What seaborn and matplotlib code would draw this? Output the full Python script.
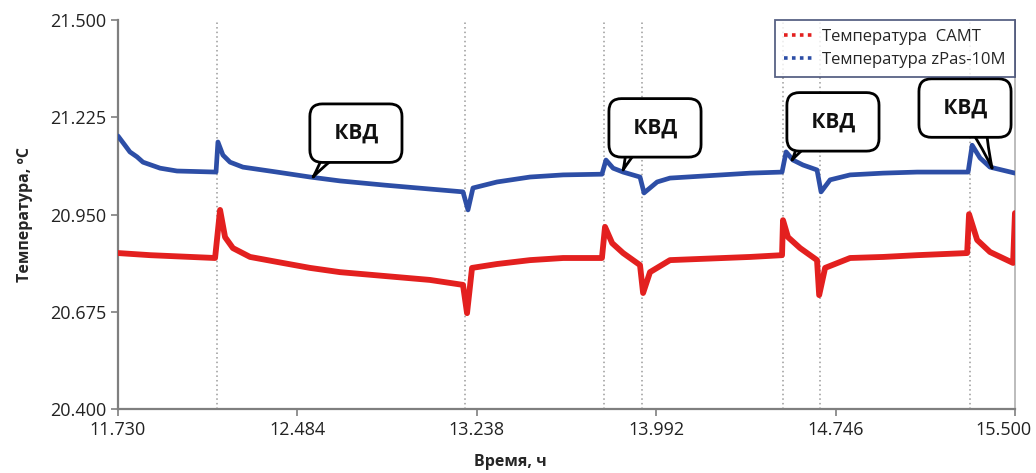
import pandas as pd
import seaborn as sns
import matplotlib.pyplot as plt
import matplotlib.transforms as mtransforms

# --- DATOS ---
# Температура САМТ (красная)
t_samt = [11.730, 11.865, 12.138, 12.159, 12.180, 12.213, 12.285, 12.398, 12.537, 12.663,
          13.041, 13.180, 13.197, 13.218, 13.323, 13.462, 13.601, 13.764, 13.777, 13.807,
          13.853, 13.924, 13.937, 13.966, 14.050, 14.387, 14.521, 14.525, 14.546, 14.597,
          14.668, 14.677, 14.702, 14.807, 14.946, 15.089, 15.299, 15.307, 15.341, 15.395,
          15.492, 15.500]
temp_samt = [20.841, 20.835, 20.827, 20.963, 20.886, 20.855, 20.830, 20.816, 20.799, 20.787,
             20.765, 20.751, 20.671, 20.799, 20.810, 20.821, 20.827, 20.827, 20.915, 20.869,
             20.841, 20.807, 20.728, 20.787, 20.821, 20.830, 20.835, 20.934, 20.886, 20.855,
             20.821, 20.722, 20.799, 20.827, 20.830, 20.835, 20.841, 20.951, 20.878, 20.844,
             20.813, 20.954]

# Температура zPas-10M (синяя)
t_zpas = [11.730, 11.759, 11.780, 11.810, 11.835, 11.907, 11.978, 12.142, 12.150, 12.171,
          12.201, 12.255, 12.398, 12.537, 12.663, 12.852, 13.041, 13.180, 13.201, 13.222,
          13.323, 13.462, 13.601, 13.764, 13.781, 13.811, 13.853, 13.924, 13.941, 13.996,
          14.050, 14.387, 14.521, 14.538, 14.567, 14.609, 14.668, 14.685, 14.723, 14.807,
          14.946, 15.089, 15.303, 15.320, 15.353, 15.395, 15.500]
temp_zpas = [21.172, 21.146, 21.127, 21.113, 21.098, 21.081, 21.073, 21.070, 21.155, 21.118,
             21.098, 21.084, 21.070, 21.056, 21.045, 21.033, 21.022, 21.014, 20.963, 21.025,
             21.042, 21.056, 21.062, 21.064, 21.104, 21.081, 21.070, 21.056, 21.011, 21.042,
             21.053, 21.067, 21.070, 21.127, 21.104, 21.090, 21.076, 21.014, 21.048, 21.062,
             21.067, 21.070, 21.070, 21.146, 21.110, 21.084, 21.067]

# моменты событий (вертикальные пунктиры)
t_events = [12.146, 13.189, 13.773, 13.933, 14.525, 14.681, 15.311]

x_ticks = [11.730, 12.484, 13.238, 13.992, 14.746, 15.500]
y_ticks = [20.400, 20.675, 20.950, 21.225, 21.500]

label_samt = 'Температура  CAMT'
label_zpas = 'Температура zPas-10M'
kvd_label = ' КВД '

df_samt = pd.DataFrame({'t': t_samt, 'temp': temp_samt})
df_zpas = pd.DataFrame({'t': t_zpas, 'temp': temp_zpas})

# --- ESTILO ---
sns.set_theme(style='white')
plt.rcParams['font.family'] = ['Open Sans', 'DejaVu Sans']

fig = plt.figure(figsize=(10.36, 4.73), dpi=100)
ax = fig.add_axes([0.1139, 0.1353, 0.8658, 0.8224])

for t in t_events:
    ax.axvline(t, color='#9a9a9a', ls=(0, (1, 2)), lw=1.1, zorder=1)

sns.lineplot(data=df_samt, x='t', y='temp', color='#e3201f', lw=4.2, sort=False,
             estimator=None, label=label_samt, ax=ax, zorder=3,
             solid_joinstyle='round')
sns.lineplot(data=df_zpas, x='t', y='temp', color='#2d4ea6', lw=3.4, sort=False,
             estimator=None, label=label_zpas, ax=ax, zorder=3,
             solid_joinstyle='round')

ax.set_xlim(11.730, 15.500)
ax.set_ylim(20.400, 21.500)
ax.set_xticks(x_ticks)
ax.set_xticklabels([f'{v:.3f}' for v in x_ticks])
ax.set_yticks(y_ticks)
ax.set_yticklabels([f'{v:.3f}' for v in y_ticks])
ax.tick_params(axis='both', labelsize=13, colors='#7f7f7f', labelcolor='#222222',
               length=5, width=1.2, direction='out', bottom=True, left=True)

# последняя подпись сдвинута влево, чтобы не обрезалась
last = ax.get_xticklabels()[-1]
last.set_transform(last.get_transform() +
                   mtransforms.ScaledTranslation(-8 / 72, 0, fig.dpi_scale_trans))

for side in ['left', 'bottom']:
    ax.spines[side].set_color('#7f7f7f')
    ax.spines[side].set_linewidth(1.6)
ax.spines['right'].set_color('#b0b0b0')
ax.spines['right'].set_linewidth(1.2)
ax.spines['top'].set_visible(False)

ax.set_ylabel('Температура, ºС', fontsize=11.5, fontweight='bold')
ax.set_xlabel('Время, ч', fontsize=11.5, fontweight='bold')
ax.yaxis.set_label_coords(-0.095, 0.5)
ax.xaxis.set_label_coords(0.437, -0.115)

# leyenda con marcadores punteados
leg = ax.legend(loc='upper right', borderaxespad=0, fontsize=12, frameon=True,
                fancybox=False, handlelength=1.8, handletextpad=0.5,
                labelspacing=0.4, borderpad=0.55)
leg.get_frame().set_edgecolor('#2f3b66')
leg.get_frame().set_linewidth(1.3)
for h in leg.get_lines():
    h.set_linestyle((0, (1, 1.2)))
    h.set_linewidth(2.6)

# выноски "КВД"
callouts = [
    ((12.550, 21.056), (12.730, 21.180), (0.25, 0.3)),
    ((13.853, 21.076), (13.987, 21.195), (0.2, 0.3)),
    ((14.563, 21.104), (14.735, 21.212), (0.15, 0.3)),
    ((15.404, 21.081), (15.290, 21.251), (0.65, 0.3)),
]
for tip, txt, rel in callouts:
    ax.annotate(kvd_label, xy=tip, xytext=txt, ha='center', va='center',
                fontsize=15, fontweight='bold', color='#111111', zorder=5,
                bbox=dict(boxstyle='round,pad=0.9,rounding_size=0.6', fc='white',
                          ec='black', lw=2),
                arrowprops=dict(arrowstyle='wedge,tail_width=1.1,shrink_factor=0.4',
                                fc='white', ec='black', lw=2, patchA=None,
                                relpos=rel, shrinkB=0))

plt.savefig('out.png', dpi=100)
